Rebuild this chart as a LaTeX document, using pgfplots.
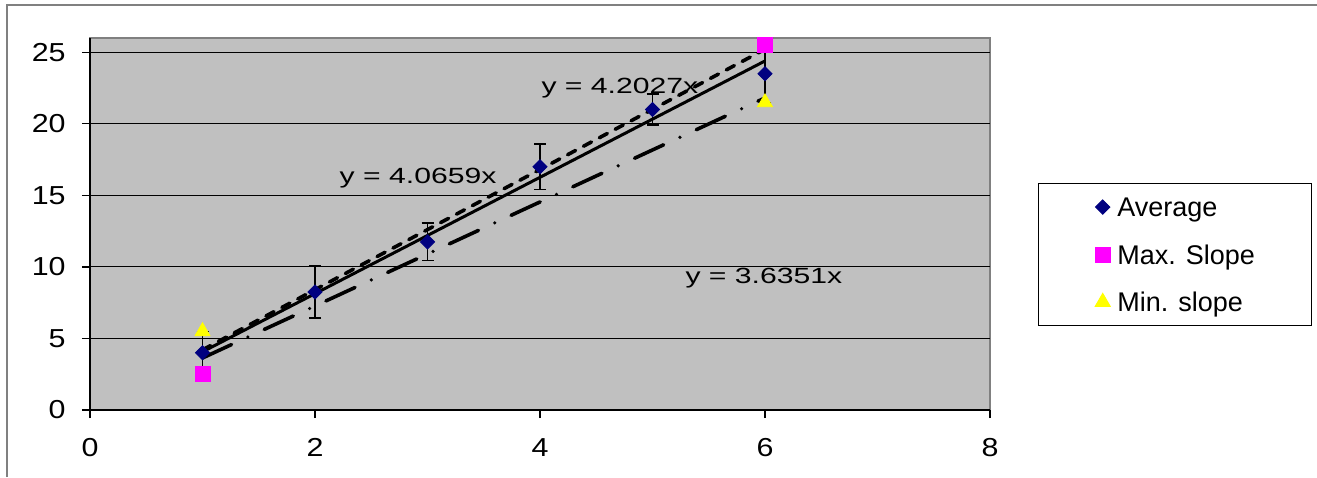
\documentclass[border=0pt]{standalone}
\usepackage{pgfplots}
\pgfplotsset{compat=1.18}
\usepackage{fontspec}
\setmainfont{Liberation Sans}
\usepackage{graphicx}

\definecolor{plotbg}{HTML}{C0C0C0}
\definecolor{avgblue}{HTML}{000080}
\definecolor{maxpink}{HTML}{FF00FF}
\definecolor{minyellow}{HTML}{FFFF00}
\definecolor{frame}{HTML}{808080}

\newcommand{\tickfont}{\fontsize{13}{15}\selectfont}
\newcommand{\eqfont}{\fontsize{11}{13}\selectfont}
\newcommand{\legfont}{\fontsize{13.5}{16}\selectfont}

\begin{document}
\begin{tikzpicture}
% page size: 1317x477 px at 0.5pt per px, origin at plot area's lower left
\useasboundingbox (-45pt,-33.5pt) rectangle (613.5pt,205pt);
\draw[frame, line width=0.8pt] (-41.5pt,-33.5pt) -- (-41.5pt,202.5pt) -- (613.5pt,202.5pt);

\begin{axis}[
    scale only axis,
    width=450pt, height=186pt,
    xmin=0, xmax=8, ymin=0, ymax=26,
    xtick={0,2,...,8},
    ytick={0,5,...,25},
    axis x line*=bottom,
    axis y line*=left,
    axis line style={-, black, line width=0.8pt},
    axis background/.style={fill=plotbg, draw=frame, line width=1pt},
    ymajorgrids,
    grid style={black, line width=0.5pt},
    tick align=outside,
    major tick length=4pt,
    tick style={black, line width=0.6pt},
    /pgf/number format/assume math mode=true,
    xticklabel={\scalebox{1.17}[1]{\pgfmathprintnumber{\tick}}},
    yticklabel={\scalebox{1.17}[1]{\pgfmathprintnumber{\tick}}},
    xticklabel style={font=\tickfont, inner sep=0pt, anchor=north, yshift=-10pt},
    yticklabel style={font=\tickfont, inner sep=0pt, anchor=east, xshift=-8pt},
    legend style={at={(1.0538,0.6108)}, anchor=north west, draw=black,
        line width=0.5pt, fill=white, inner xsep=0pt, inner ysep=0pt,
        nodes={inner sep=0pt, text depth=7pt, text height=16.75pt, font=\legfont},
        cells={anchor=west}},
    legend image code/.code={\path[draw=none, fill=none] (-31.9pt,0pt) -- (7.3pt,0pt);
        \draw[#1] plot coordinates {(0pt,0pt)};},
]

% Average with error bars
\addplot[only marks, mark=square*, mark size=2.5pt,
    mark options={rotate=45, fill=avgblue, draw=avgblue},
    error bars/.cd, y dir=both, y explicit,
    error bar style={black, line width=0.8pt},
    error mark options={rotate=90, mark size=3pt, black, line width=0.8pt}]
coordinates {
  (1,4)     +- (0,1.5)
  (2,8.25)  +- (0,1.8)
  (3,11.75) +- (0,1.3)
  (4,17)    +- (0,1.6)
  (5,21)    +- (0,1.1)
  (6,23.5)  +- (0,2.0)
};
\addlegendentry{\makebox[97pt][l]{Average}}

\addplot[only marks, mark=square*, mark size=3.75pt,
    mark options={fill=maxpink, draw=maxpink}]
coordinates {(1,2.5) (6,25.5)};
\addlegendentry{\makebox[97pt][l]{Max. Slope}}

\addplot[only marks, mark=triangle*, mark size=4.3pt,
    mark options={fill=minyellow, draw=minyellow}]
coordinates {(1,5.5) (6,21.5)};
\addlegendentry{\makebox[97pt][l]{Min. slope}}

% trendlines through the origin, drawn over the data range
\addplot[forget plot, black, line width=1.5pt] coordinates {(1,4.0659) (6,24.3954)};
\addplot[forget plot, black, line width=1.8pt, line cap=round,
    dash pattern=on 4.5pt off 4.5pt] coordinates {(1,4.2027) (6,25.2162)};
\addplot[forget plot, black, line width=1.8pt, line cap=round,
    dash pattern=on 16pt off 9pt on 0pt off 9pt] coordinates {(1,3.6351) (6,21.8106)};

\node[anchor=base, font=\eqfont, inner sep=0pt] at (axis cs:4.71,22.65) [yshift=-3.94pt] {\scalebox{1.37}[1]{y = 4.2027x}};
\node[anchor=base, font=\eqfont, inner sep=0pt] at (axis cs:2.916,16.39) [yshift=-3.94pt] {\scalebox{1.37}[1]{y = 4.0659x}};
\node[anchor=base, font=\eqfont, inner sep=0pt] at (axis cs:5.99,9.38) [yshift=-3.94pt] {\scalebox{1.37}[1]{y = 3.6351x}};
\end{axis}
\end{tikzpicture}
\end{document}
